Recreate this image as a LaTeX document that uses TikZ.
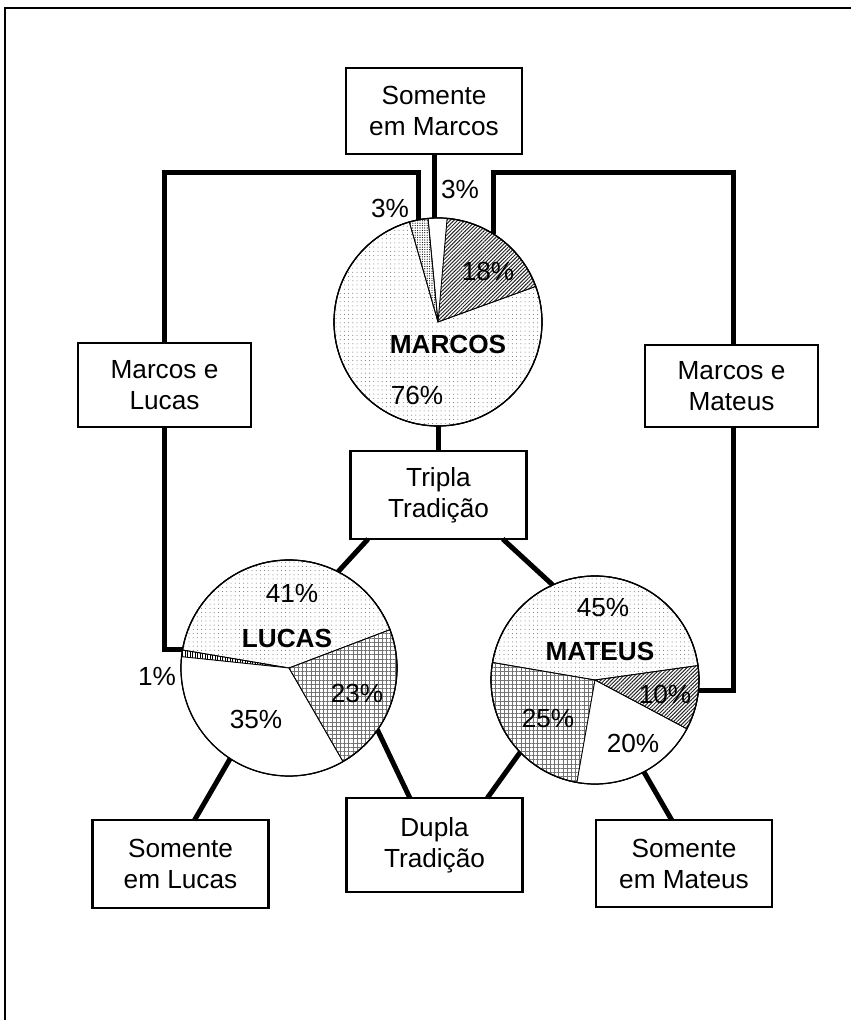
\documentclass[tikz,border=0pt]{standalone}
\usepackage{fontspec}
\setmainfont{Liberation Sans}
\usetikzlibrary{patterns.meta,calc}
\begin{document}
\begin{tikzpicture}[x=1pt,y=1pt,
  every node/.style={font=\fontsize{26.2pt}{31pt}\selectfont},
  lbl/.style={inner sep=0pt},
  blbl/.style={inner sep=0pt,font=\fontsize{26.2pt}{31pt}\selectfont\bfseries},
  box/.style={draw,line width=2.6pt,fill=white,align=center,minimum width=176pt,minimum height=86pt,inner sep=2pt,outer sep=0pt},
  pie/.style={circle,draw,line width=1.2pt,inner sep=0pt,outer sep=0pt},
  conn/.style={line width=5pt,line join=miter},
  wedge/.style={draw,line width=0.8pt},
  pdots/.style={wedge,pattern={Dots[distance=4.2pt,radius=0.5pt]},pattern color=black!60},
  pdense/.style={wedge,pattern={Dots[distance=2.4pt,radius=0.6pt]},pattern color=black},
  phatch/.style={wedge,pattern={Lines[angle=45,distance=2.6pt,line width=1pt]},pattern color=black!85},
  pgrid/.style={wedge,pattern={Hatch[angle=0,distance=4.2pt,line width=0.45pt]},pattern color=black!55},
  pvert/.style={wedge,pattern={Lines[angle=90,distance=2.5pt,line width=0.6pt]},pattern color=black},
  pwhite/.style={wedge,fill=white}]
\useasboundingbox (0,0) rectangle (851,1020);
% frame (only top and left edges visible)
\draw[line width=2.6pt] (5,0) -- (5,1012) -- (851,1012);

% pies (nodes for anchoring)
\node[pie,minimum size=208pt] (marcos) at (438,698) {};
\node[pie,minimum size=216pt] (lucas) at (289,352) {};
\node[pie,minimum size=208pt] (mateus) at (595,340) {};

% boxes
\node[box] (sm) at (434,909) {Somente\\em Marcos};
\node[box,minimum width=173pt,minimum height=84pt] (ml) at (164.5,635) {Marcos e\\Lucas};
\node[box,minimum width=173pt,minimum height=82pt] (mm) at (731.5,634) {Marcos e\\Mateus};
\node[box,minimum height=88pt] (tt) at (438.5,525) {Tripla\\Tradição};
\node[box,minimum height=88pt] (sl) at (180.5,156) {Somente\\em Lucas};
\node[box,minimum height=94pt] (dt) at (434.5,175) {Dupla\\Tradição};
\node[box,minimum height=87pt] (smt) at (684,156.5) {Somente\\em Mateus};

% helper corners
\coordinate (ml-top) at (164.5,847);
\coordinate (mm-top) at (733,847);

% connectors
\draw[conn] (sm.south) -- (sm.south |- marcos.north);
\draw[conn] (marcos.101) |- (ml-top) -- (ml.north);
\draw[conn] (ml.south) |- (lucas.170);
\draw[conn] (marcos.58) |- (mm-top) -- (mm.north -| mm-top);
\draw[conn] (mm.south -| mm-top) |- (mateus.-6.6);
\draw[conn] (marcos.south) -- (tt.north -| marcos.south);
\draw[conn] ($(tt.south west)!0.1!(tt.south east)$) -- (lucas.63);
\draw[conn] ($(tt.south west)!0.865!(tt.south east)$) -- (mateus.114);
\draw[conn] (lucas.237) -- ($(sl.north west)!0.58!(sl.north east)$);
\draw[conn] (lucas.-35) -- ($(dt.north west)!0.36!(dt.north east)$);
\draw[conn] (mateus.-136) -- ($(dt.north west)!0.80!(dt.north east)$);
\draw[conn] (mateus.-62) -- ($(smt.north west)!0.43!(smt.north east)$);

% Marcos wedges
\draw[pdots] (marcos.center) -- ++(106:104) arc[start angle=106,end angle=380,radius=104] -- cycle;
\draw[phatch] (marcos.center) -- ++(20:104) arc[start angle=20,end angle=85,radius=104] -- cycle;
\draw[pwhite] (marcos.center) -- ++(85:104) arc[start angle=85,end angle=95.5,radius=104] -- cycle;
\draw[pdense] (marcos.center) -- ++(95.5:104) arc[start angle=95.5,end angle=106,radius=104] -- cycle;
\node[pie,minimum size=208pt] at (marcos.center) {};

% Lucas wedges
\draw[pdots] (lucas.center) -- ++(20.8:108) arc[start angle=20.8,end angle=170.4,radius=108] -- cycle;
\draw[pvert] (lucas.center) -- ++(170.4:108) arc[start angle=170.4,end angle=174,radius=108] -- cycle;
\draw[pwhite] (lucas.center) -- ++(174:108) arc[start angle=174,end angle=300,radius=108] -- cycle;
\draw[pgrid] (lucas.center) -- ++(300:108) arc[start angle=300,end angle=380.8,radius=108] -- cycle;
\node[pie,minimum size=216pt] at (lucas.center) {};

% Mateus wedges
\draw[pdots] (mateus.center) -- ++(8:104) arc[start angle=8,end angle=170.3,radius=104] -- cycle;
\draw[pgrid] (mateus.center) -- ++(170.3:104) arc[start angle=170.3,end angle=260,radius=104] -- cycle;
\draw[pwhite] (mateus.center) -- ++(260:104) arc[start angle=260,end angle=332,radius=104] -- cycle;
\draw[phatch] (mateus.center) -- ++(332:104) arc[start angle=332,end angle=368,radius=104] -- cycle;
\node[pie,minimum size=208pt] at (mateus.center) {};

% labels
\node[lbl] (m3a) at (390,812) {3\%};
\node[lbl] (m3b) at (460,831) {3\%};
\node[lbl] (m18) at (488,749) {18\%};
\node[blbl] (mname) at (448,676) {MARCOS};
\node[lbl] (m76) at (417,625) {76\%};

\node[lbl] (l41) at (292,427) {41\%};
\node[blbl] (lname) at (287,382) {LUCAS};
\node[lbl] (l23) at (357,327) {23\%};
\node[lbl] (l35) at (256,301) {35\%};
\node[lbl] (l1) at (157,344) {1\%};

\node[lbl] (t45) at (603,412) {45\%};
\node[blbl] (tname) at (600,369) {MATEUS};
\node[lbl] (t10) at (665,326) {10\%};
\node[lbl] (t25) at (548,302) {25\%};
\node[lbl] (t20) at (633,277) {20\%};
\end{tikzpicture}
\end{document}
